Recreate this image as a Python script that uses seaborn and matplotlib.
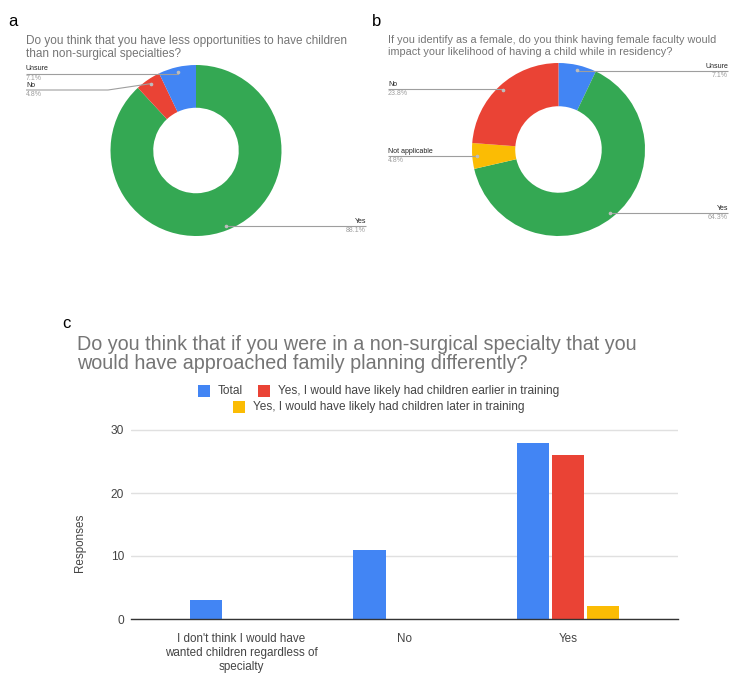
import numpy as np
import pandas as pd
import matplotlib
matplotlib.use("Agg")
import matplotlib.pyplot as plt
from matplotlib.patches import Rectangle
import seaborn as sns

# ---------------- data ----------------
pie_a_labels = ["Yes", "No", "Unsure"]
pie_a_values = [88.1, 4.8, 7.1]
pie_a_colors = ["#34A853", "#EA4335", "#4285F4"]

pie_b_labels = ["Unsure", "Yes", "Not applicable", "No"]
pie_b_values = [7.1, 64.3, 4.8, 23.8]
pie_b_colors = ["#4285F4", "#34A853", "#FBBC04", "#EA4335"]

bar_categories = ["I don't think I would have\nwanted children regardless of\nspecialty", "No", "Yes"]
series_names = ["Total",
                "Yes, I would have likely had children earlier in training",
                "Yes, I would have likely had children later in training"]
total_vals = [3, 11, 28]
earlier_vals = [0, 0, 26]
later_vals = [0, 0, 2]
series_colors = ["#4285F4", "#EA4335", "#FBBC04"]
y_ticks = [0, 10, 20, 30]

title_a = "Do you think that you have less opportunities to have children\nthan non-surgical specialties?"
title_b = "If you identify as a female, do you think having female faculty would\nimpact your likelihood of having a child while in residency?"
title_c = "Do you think that if you were in a non-surgical specialty that you\nwould have approached family planning differently?"

# ---------------- style ----------------
sns.set_theme(style="white")
plt.rcParams["font.family"] = ["Liberation Sans", "DejaVu Sans"]

W, H = 750, 689
fig = plt.figure(figsize=(W / 100, H / 100), dpi=100)
fig.patch.set_facecolor("white")

def fx(px):
    return px / W

def fy(py):
    return 1 - py / H

TITLE_GREY = "#757575"

# panel letters
fig.text(fx(8), fy(22), "a", fontsize=12, color="black", va="center")
fig.text(fx(372), fy(22), "b", fontsize=12, color="black", va="center")
fig.text(fx(62), fy(323), "c", fontsize=12, color="black", va="center")

fig.text(fx(26), fy(47.5), title_a, fontsize=8.5, color=TITLE_GREY, va="center", linespacing=1.12)
fig.text(fx(388), fy(46), title_b, fontsize=7.8, color=TITLE_GREY, va="center", linespacing=1.22)


def donut(cx, cy, R, values, colors, labels, label_layout):
    ax = fig.add_axes([fx(cx - R), fy(cy + R), 2 * R / W, 2 * R / H])
    ax.pie(values, colors=colors, startangle=90, counterclock=False,
           radius=1, wedgeprops=dict(width=0.5, linewidth=0))
    ax.set_xlim(-1, 1)
    ax.set_ylim(-1, 1)
    ax.set_aspect("auto")
    ax.axis("off")
    total = sum(values)
    cum = 0
    for lab, v in zip(labels, values):
        theta = np.deg2rad(360 * (cum + v / 2) / total)
        cum += v
        px_, py_ = 0.945 * np.sin(theta), 0.945 * np.cos(theta)
        tx, ty, side, knee = label_layout[lab]
        dx = (tx - cx) / R
        dy = (cy - (ty + 4.5)) / R
        kx = (knee - cx) / R if knee is not None else px_
        ax.plot([dx, kx, px_], [dy, dy, py_], color="#9e9e9e", lw=0.8,
                clip_on=False, solid_capstyle="butt")
        ax.plot([px_], [py_], marker="o", ms=1.6, color="#bdbdbd", clip_on=False)
        ha = "left" if side == "left" else "right"
        fig.text(fx(tx), fy(ty), lab, fontsize=5.0, color="#222222", ha=ha, va="center")
        fig.text(fx(tx), fy(ty + 9), f"{v:.1f}%", fontsize=5.0, color="#9e9e9e", ha=ha, va="center")
    return ax

# layout: label -> (text x px, name y px, side, knee x px)
layout_a = {
    "Unsure": (26, 69, "left", None),
    "No": (26, 85.5, "left", 108),
    "Yes": (366, 221.5, "right", None),
}
layout_b = {
    "Unsure": (728, 66.5, "right", None),
    "No": (388, 84.5, "left", None),
    "Not applicable": (388, 151.5, "left", None),
    "Yes": (728, 208.5, "right", None),
}
donut(196, 150.5, 85.5, pie_a_values, pie_a_colors, pie_a_labels, layout_a)
donut(558.5, 149.5, 86.5, pie_b_values, pie_b_colors, pie_b_labels, layout_b)

# ---------------- bar chart ----------------
fig.text(fx(77), fy(354), title_c, fontsize=14.2, color=TITLE_GREY, va="center", linespacing=0.95)

df = pd.DataFrame({
    "category": bar_categories * 3,
    "series": [series_names[0]] * 3 + [series_names[1]] * 3 + [series_names[2]] * 3,
    "value": total_vals + earlier_vals + later_vals,
})

y0_px, y30_px = 619, 430
ytop = 30.3
ax_h = (y0_px - y30_px) * ytop / 30
axb = fig.add_axes([fx(131), fy(y0_px), (678 - 131) / W, ax_h / H])
sns.barplot(data=df, x="category", y="value", hue="series", hue_order=series_names,
            palette=series_colors, width=0.642, gap=0.06, linewidth=0,
            saturation=1, legend=False, ax=axb)
axb.set_xlim(-0.673, 2.673)
axb.set_ylim(0, ytop)
axb.set_yticks(y_ticks)
axb.yaxis.grid(True, color="#e0e0e0", lw=1)
axb.set_axisbelow(True)
for s in ["top", "right", "left"]:
    axb.spines[s].set_visible(False)
axb.spines["bottom"].set_color("#333333")
axb.spines["bottom"].set_linewidth(1)
axb.tick_params(axis="y", length=0, pad=5, labelsize=8.6, labelcolor="#444444")
axb.tick_params(axis="x", length=0, pad=10, labelsize=8.4, labelcolor="#444444")
for t in axb.get_xticklabels():
    t.set_linespacing(1.25)
axb.set_xlabel("")
axb.set_ylabel("Responses", fontsize=8.4, color="#444444")
axb.yaxis.set_label_coords((86 - 131) / 547, (y0_px - 543) / ax_h)

# legend (two centered rows)
def legend_item(x_sq, y, color, text):
    fig.patches.append(Rectangle((fx(x_sq), fy(y + 6)), 12 / W, 12 / H, transform=fig.transFigure,
                                 facecolor=color, edgecolor="none"))
    fig.text(fx(x_sq + 20), fy(y), text, fontsize=8.55, color="#444444", va="center")

legend_item(198, 391, series_colors[0], series_names[0])
legend_item(258, 391, series_colors[1], series_names[1])
legend_item(233, 407, series_colors[2], series_names[2])

fig.savefig("out.png", dpi=100, facecolor="white")
